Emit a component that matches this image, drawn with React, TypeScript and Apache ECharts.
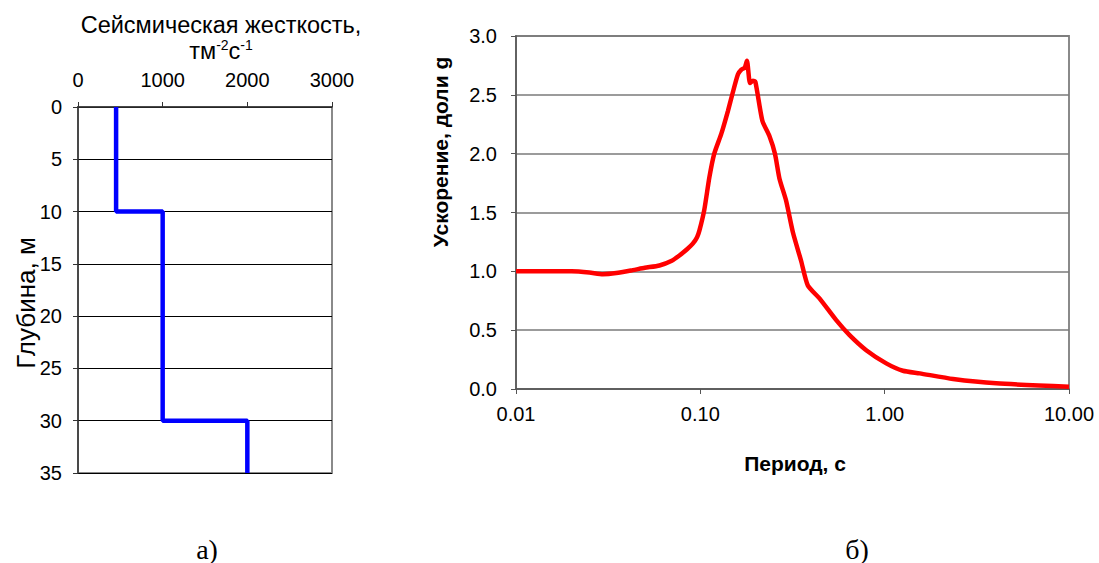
import React, { useEffect, useRef } from "react";
import * as echarts from "echarts";

// Left chart: seismic stiffness profile (step)
const depthTicks = [0, 5, 10, 15, 20, 25, 30, 35];
const stiffnessTicks = [0, 1000, 2000, 3000];
const profileStiffness = [450, 450, 1000, 1000, 2000, 2000];
const profileDepth = [0, 10, 10, 30, 30, 35];

// Right chart: response spectrum
const period = [
  0.01, 0.02, 0.025, 0.0296, 0.035, 0.043, 0.05, 0.06, 0.07, 0.077, 0.085, 0.091, 0.096, 0.099,
  0.105, 0.112, 0.119, 0.13, 0.141, 0.15, 0.16, 0.167, 0.174, 0.179, 0.186, 0.193, 0.199,
  0.217, 0.237, 0.254, 0.269, 0.292, 0.318, 0.352, 0.383, 0.443, 0.546, 0.645, 0.794, 1.02,
  1.256, 1.55, 2.35, 4.03, 10.0,
];
const accel = [
  1.0, 1.0, 0.99, 0.975, 0.985, 1.01, 1.03, 1.05, 1.09, 1.135, 1.19, 1.235, 1.29, 1.35,
  1.52, 1.8, 2.0, 2.17, 2.36, 2.52, 2.675, 2.715, 2.73, 2.79, 2.6, 2.62, 2.61,
  2.28, 2.15, 2.0, 1.785, 1.6, 1.33, 1.09, 0.88, 0.77, 0.585, 0.458, 0.33, 0.218,
  0.155, 0.133, 0.085, 0.048, 0.02,
];
const accelTicks = [0, 0.5, 1.0, 1.5, 2.0, 2.5, 3.0];

const FONT = "Liberation Sans";
const TICK = 20;

export default function App() {
  const ref = useRef<HTMLDivElement>(null);
  useEffect(() => {
    document.body.style.margin = "0";
    const chart = echarts.init(ref.current!, null, { renderer: "svg" });
    const profile = profileStiffness.map((v, i) => [v, profileDepth[i]]);
    const spectrum = period.map((p, i) => [p, accel[i]]);
    const txt = (
      text: string,
      x: number,
      y: number,
      size: number,
      opts: { bold?: boolean; rotate?: boolean; family?: string } = {}
    ) => ({
      type: "text",
      x,
      y,
      rotation: opts.rotate ? Math.PI / 2 : 0,
      style: {
        text,
        fontSize: size,
        fontFamily: opts.family || FONT,
        fontWeight: opts.bold ? "bold" : "normal",
        fill: "#000",
        align: "center",
        verticalAlign: "middle",
      },
    });
    chart.setOption({
      animation: false,
      backgroundColor: "#fff",
      textStyle: { fontFamily: FONT },
      grid: [
        { left: 78, top: 107, width: 254, height: 366, show: true, borderColor: "#8a8a8a", borderWidth: 2 },
        { left: 516, top: 36, width: 553, height: 353, show: true, borderColor: "#8a8a8a", borderWidth: 2 },
      ],
      xAxis: [
        {
          gridIndex: 0,
          type: "value",
          position: "top",
          min: stiffnessTicks[0],
          max: stiffnessTicks[stiffnessTicks.length - 1],
          interval: 1000,
          axisLine: { show: true, lineStyle: { color: "#333", width: 1.5 } },
          axisTick: { show: true, length: 5, lineStyle: { color: "#333" } },
          axisLabel: {
            fontSize: TICK,
            color: "#000",
            fontFamily: FONT,
            margin: 17,
            formatter: (v: number) => String(v),
          },
          splitLine: { show: false },
        },
        {
          gridIndex: 1,
          type: "log",
          logBase: 10,
          min: 0.01,
          max: 10,
          axisLine: { show: true, lineStyle: { color: "#555", width: 1.5 } },
          axisTick: { show: true, length: 5, lineStyle: { color: "#555" } },
          minorTick: { show: false },
          axisLabel: {
            fontSize: TICK,
            color: "#000",
            fontFamily: FONT,
            margin: 15,
            formatter: (v: number) => v.toFixed(2),
          },
          splitLine: { show: false },
        },
      ],
      yAxis: [
        {
          gridIndex: 0,
          type: "value",
          inverse: true,
          min: depthTicks[0],
          max: depthTicks[depthTicks.length - 1],
          interval: 5,
          axisLine: { show: true, lineStyle: { color: "#333", width: 1.5 } },
          axisTick: { show: true, length: 5, lineStyle: { color: "#333" } },
          axisLabel: { fontSize: TICK, color: "#000", fontFamily: FONT, margin: 16 },
          splitLine: { show: true, lineStyle: { color: "#000", width: 1 } },
        },
        {
          gridIndex: 1,
          type: "value",
          min: accelTicks[0],
          max: accelTicks[accelTicks.length - 1],
          interval: 0.5,
          axisLine: { show: true, lineStyle: { color: "#555", width: 1.5 } },
          axisTick: { show: true, length: 5, lineStyle: { color: "#555" } },
          axisLabel: {
            fontSize: TICK,
            color: "#000",
            fontFamily: FONT,
            margin: 19,
            formatter: (v: number) => v.toFixed(1),
          },
          splitLine: { show: true, lineStyle: { color: "#7a7a7a", width: 1.5 } },
        },
      ],
      series: [
        {
          type: "line",
          xAxisIndex: 0,
          yAxisIndex: 0,
          data: profile,
          symbol: "none",
          lineStyle: { color: "#0000ff", width: 4.5 },
          z: 5,
        },
        {
          type: "line",
          xAxisIndex: 1,
          yAxisIndex: 1,
          data: spectrum,
          symbol: "none",
          smooth: 0.2,
          lineStyle: { color: "#ff0000", width: 4.5 },
          z: 5,
        },
      ],
      graphic: [
        txt("Сейсмическая жесткость,", 221, 25, 23.5),
        {
          type: "text",
          x: 221,
          y: 51,
          style: {
            text: "{a|тм}{s|-2}{a|с}{s|-1}",
            fontSize: 23.5,
            fontFamily: FONT,
            fill: "#000",
            align: "center",
            verticalAlign: "middle",
            rich: {
              a: { fontSize: 23.5, fontFamily: FONT, fill: "#000", lineHeight: 26 },
              s: { fontSize: 14, fontFamily: FONT, fill: "#000", lineHeight: 26, padding: [0, 0, 12, 0] },
            },
          },
        },
        txt("Глубина, м", 26, 303, 26, { rotate: true }),
        txt("Ускорение, доли g", 440, 152, 21, { rotate: true, bold: true }),
        txt("Период, с", 795, 463, 21, { bold: true }),
        txt("а)", 207, 549, 28, { family: "Liberation Serif" }),
        txt("б)", 857, 549, 28, { family: "Liberation Serif" }),
      ],
    });
    return () => chart.dispose();
  }, []);
  return <div ref={ref} style={{ width: 1099, height: 563 }} />;
}
